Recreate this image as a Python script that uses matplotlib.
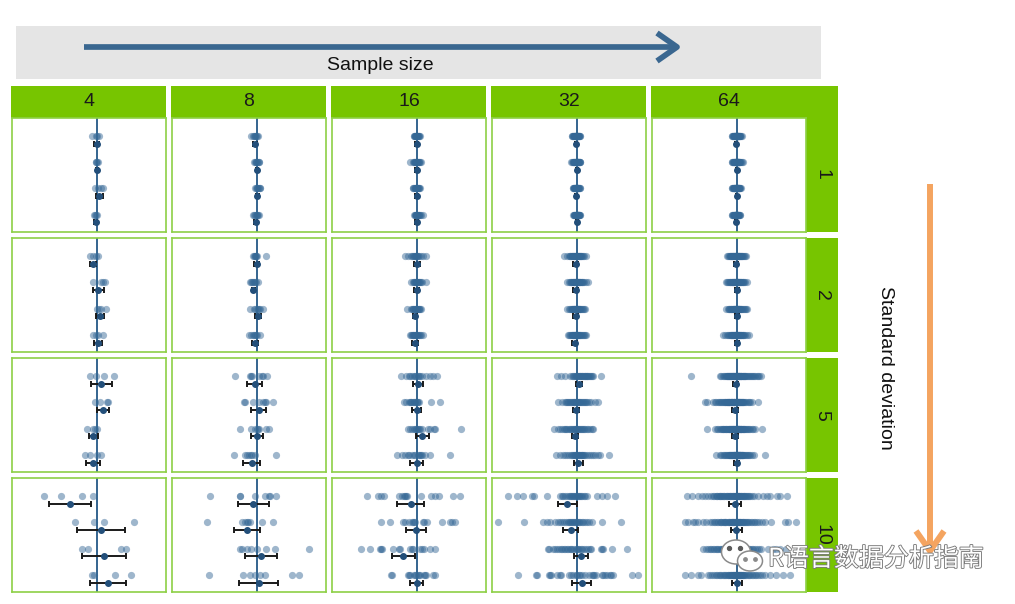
import matplotlib
matplotlib.use("Agg")
import matplotlib.pyplot as plt
from matplotlib.patches import Rectangle, Ellipse
import matplotlib.patheffects as pe

sample_sizes = [4, 8, 16, 32, 64]
std_devs = [1, 2, 5, 10]

# observations per group (offset from the true mean), one list of 4 groups per panel
sd1_n4 = [[-4.5, -1, 0.5, 2], [-1, -0.3, 0.3, 1], [-1.3, 1, 4, 6.7], [-2.5, -1.5, -0.5, 0.5]]
sd1_n8 = [[-5.3, -4, -3, -2, -1.5, -0.5, 0.3, 1.3], [-2.3, -1.5, -1, -0.3, 0.3, 1, 2, 2.7],
          [-1.7, -1, 0, 0.5, 1, 2, 3, 3.7], [-3.3, -2.5, -1.5, -1, 0, 0.5, 1.5, 2.7]]
sd1_n16 = [[-3, -2.5, -2, -1.7, -1.3, -1, -0.5, 0, 0, 0.3, 0.7, 1, 1.5, 2, 2.7, 3.3],
           [-6.7, -3.5, -3, -2.5, -2, -1.5, -1, -0.5, 0, 0.5, 1, 1.5, 2, 2.5, 3, 4],
           [-4, -3.3, -2.7, -2, -1.5, -1, -0.7, -0.3, 0, 0.3, 0.7, 1, 1.5, 2, 2.5, 3],
           [-2.7, -2, -1.5, -1, -0.7, -0.3, 0, 0.3, 0.7, 1, 1.5, 2, 2.5, 3, 4, 6]]
sd1_n32 = [[-5, -4.3, -3.7, -3.2, -2.8, -2.5, -2.1, -1.8, -1.6, -1.3, -1.1, -0.9, -0.7, -0.5, -0.3, -0.1,
            0, 0.2, 0.4, 0.5, 0.7, 0.9, 1.1, 1.3, 1.6, 1.9, 2.2, 2.5, 2.9, 3.3, 3.7, -1.5],
           [-5.3, -4.5, -3.8, -3.3, -2.9, -2.5, -2.1, -1.8, -1.5, -1.2, -0.9, -0.6, -0.4, -0.2, 0, 0.2,
            0.4, 0.6, 0.8, 1, 1.2, 1.4, 1.6, 1.9, 2.1, 2.4, 2.7, 3, 3.3, 3.7, 0.5, -0.5],
           [-3.7, -3.2, -2.8, -2.4, -2.1, -1.8, -1.5, -1.2, -1, -0.8, -0.6, -0.4, -0.2, 0, 0.1, 0.3,
            0.5, 0.7, 0.9, 1.1, 1.3, 1.6, 1.9, 2.2, 2.6, 3, 3.7, -0.5, 0.4, -1.4, 0.8, -0.1],
           [-3.3, -2.9, -2.5, -2.1, -1.8, -1.5, -1.2, -0.9, -0.6, -0.3, 0, 0.2, 0.4, 0.6, 0.8, 1,
            1.2, 1.4, 1.6, 1.8, 2, 2.3, 2.6, 2.9, 3.3, 3.7, 0.5, -0.2, 0.9, 1.3, -1, 0.1]]
sd1_n64 = [[-5, -4.3, -3.8, -3.4, -3, -2.7, -2.4, -2.1, -1.8, -1.5, -1.3, -1.1, -0.9, -0.7, -0.5, -0.3,
            -0.1, 0.1, 0.3, 0.5, 0.7, 0.9, 1.1, 1.3, 1.5, 1.8, 2.1, 2.4, 2.7, 3, 3.4, 3.9, 4.5, 5.3,
            0, -0.6, 0.6, -1.6, 1.6, 0.2],
           [-5, -4.2, -3.6, -3.1, -2.7, -2.3, -2, -1.7, -1.4, -1.1, -0.8, -0.6, -0.3, -0.1, 0.1, 0.3,
            0.5, 0.7, 0.9, 1.1, 1.3, 1.6, 1.9, 2.2, 2.5, 2.9, 3.3, 3.8, 4.4, 5.2, 6.7, 0, -0.4, 0.6,
            -1.2, 1.4, 0.2, -2.5, 2.7, 1],
           [-5, -4.2, -3.6, -3.1, -2.7, -2.4, -2.1, -1.8, -1.5, -1.2, -1, -0.8, -0.6, -0.4, -0.2, 0,
            0.2, 0.4, 0.6, 0.8, 1, 1.2, 1.5, 1.8, 2.1, 2.4, 2.8, 3.2, 3.8, 4.7, -0.1, 0.5, -0.9, 1.3,
            -1.6, 0.3, -0.3, 0.9, -2.2, 2],
           [-5, -4.3, -3.7, -3.2, -2.8, -2.4, -2.1, -1.8, -1.5, -1.3, -1.1, -0.9, -0.7, -0.5, -0.3, -0.1,
            0.1, 0.3, 0.5, 0.7, 0.9, 1.1, 1.3, 1.6, 1.9, 2.2, 2.6, 3, 3.3, -0.6, 0.4, -1.4, 0.8, -0.2,
            1.2, -2, 0, 0.6, -0.8, 1.7]]

sd2_n4 = [[-6.3, -3.7, -0.7, 1], [-3.3, 4.3, 6.3, 8.3], [0.3, 2.7, 4.7, 9], [-3.3, -0.7, 1.3, 6]]
sd2_n8 = [[-3.3, -2.7, -2, -1.7, -1, -0.5, 0.3, 9.3], [-6.3, -5.3, -4.3, -3.7, -3, -2, -1, 1],
          [-7, -3, -1.7, 0.7, 1.3, 2, 3.3, 6], [-7.7, -5.3, -4, -3, -2, -1, 0.5, 3]]
sd2_n16 = [[-11.3, -8.7, -6, -5, -4, -2.7, -2, -1.3, -0.7, 0, 0.7, 1.3, 2, 4, 6.7, 9.7],
           [-5.3, -4, -3, -2.3, -1.7, -1, -0.3, 0, 0.7, 1.3, 2, 2.7, 3.3, 4, 5, 9.7],
           [-10, -6, -5, -4, -3.3, -2.7, -2, -1.3, -0.7, 0, 0.7, 1.3, 2, 2.7, 3.3, 4.3],
           [-7, -6, -5, -4, -3.3, -2.7, -2, -1.3, -0.7, 0, 0.7, 1.3, 2.3, 3.3, 4.7, 6]]
sd2_n32 = [[-12.3, -9.5, -8, -7, -6.2, -5.5, -4.8, -4.2, -3.6, -3.1, -2.6, -2.1, -1.7, -1.3, -0.9, -0.5,
            -0.1, 0.3, 0.7, 1.1, 1.5, 2, 2.5, 3, 3.6, 4.2, 4.9, 5.7, 6.6, 7.8, 9.3, -1],
           [-9.3, -7.8, -6.8, -6, -5.2, -4.5, -3.9, -3.3, -2.8, -2.3, -1.8, -1.3, -0.9, -0.5, -0.1, 0.3,
            0.7, 1.1, 1.5, 2, 2.5, 3, 3.6, 4.3, 5, 5.8, 6.7, 7.8, 9.2, 11, -0.3, 1.8],
           [-9.3, -7.7, -6.6, -5.8, -5, -4.3, -3.7, -3.1, -2.6, -2.1, -1.6, -1.2, -0.8, -0.4, 0, 0.4,
            0.8, 1.2, 1.6, 2.1, 2.6, 3.1, 3.7, 4.4, 5.2, 6.1, 7.1, 8.3, -1.8, 0.2, -3, 1.4],
           [-8.3, -7.2, -6.3, -5.5, -4.8, -4.2, -3.6, -3.1, -2.6, -2.2, -1.8, -1.4, -1, -0.6, -0.2, 0.2,
            0.6, 1, 1.4, 1.9, 2.4, 3, 3.6, 4.3, 5.1, 6, 7.1, 8.1, 9.3, -2, 0.4, -0.8]]
sd2_n64 = [[-9.7, -8.5, -7.6, -6.9, -6.3, -5.7, -5.2, -4.7, -4.3, -3.9, -3.5, -3.1, -2.7, -2.4, -2, -1.7,
            -1.4, -1.1, -0.8, -0.5, -0.2, 0.1, 0.4, 0.7, 1, 1.3, 1.6, 2, 2.4, 2.8, 3.2, 3.7, 4.2, 4.7,
            5.3, 5.9, 6.6, 7.4, 8.2, 9],
           [-11, -9.6, -8.5, -7.6, -6.8, -6.1, -5.5, -4.9, -4.4, -3.9, -3.4, -3, -2.6, -2.2, -1.8, -1.4,
            -1, -0.7, -0.3, 0, 0.3, 0.7, 1, 1.4, 1.8, 2.2, 2.6, 3.1, 3.6, 4.1, 4.7, 5.3, 6, 6.7, 7.5,
            8.5, 10, -0.5, 0.5, 1.2],
           [-10.3, -9, -8, -7.1, -6.4, -5.7, -5.1, -4.5, -4, -3.5, -3, -2.6, -2.2, -1.8, -1.4, -1,
            -0.6, -0.2, 0.2, 0.6, 1, 1.4, 1.8, 2.2, 2.7, 3.2, 3.7, 4.3, 4.9, 5.6, 6.3, 7.1, 8, 9.1,
            10.7, -0.4, 0.8, 1.6, -1.2, 2.5],
           [-13.7, -11.3, -9.7, -8.5, -7.5, -6.7, -6, -5.3, -4.7, -4.1, -3.6, -3.1, -2.6, -2.1, -1.7,
            -1.3, -0.9, -0.5, -0.1, 0.3, 0.7, 1.1, 1.5, 2, 2.5, 3, 3.5, 4.1, 4.7, 5.4, 6.1, 6.9, 7.8,
            8.8, 10.2, 12, 0.5, -0.3, 1.3, -1.1]]

sd5_n4 = [[-6.3, -0.7, 7.7, 17.7], [-1.7, 3.7, 10.3, 11.7], [-9.3, -4, -2, 0.7], [-11.7, -6.3, 0, 4.3]]
sd5_n8 = [[-21.7, -6.7, -5.7, -5, 2.3, 5.3, 6.7, 10.7], [-12.3, -11.7, -4, 2.3, 6.7, 8.3, 9.3, 16.3],
          [-17, -6, -1.7, 0.7, 1.7, 2, 9.3, 12.7], [-23, -11.7, -10, -8, -6, -4.7, -1.3, 19.3]]
sd5_n16 = [[-16, -11, -7.7, -6.3, -5, -3, -2, -0.3, 1, 2, 3.7, 5, 9.7, 13.7, 16.3, 20.3],
           [-13, -10.3, -8, -7, -6, -5.7, -4, -3, -2, -1.3, 0, 0.3, 1, 2.7, 14.3, 23],
           [-9, -6.3, -5, -3, -2, -1, 0.3, 1, 2, 3.7, 5, 11, 13.7, 17, 18.7, 44],
           [-19.7, -14.7, -11.3, -9, -8, -4.7, -3, -1.3, 1, 2, 3, 4.3, 5, 8.7, 13, 33]]
sd5_n32 = [[-20, -16, -12, -7, -5, -4, -3, -2, -1, 0, 0, 1, 2, 3, 4, 5, 6, 7, 8, 9, 10, 11, 12, 13,
            14, 15, 16, 3, 5, 8, 10, 24],
           [-19, -15, -12, -11, -10, -9, -8, -7, -6, -5, -4, -3, -2, -1, 0, 0, 1, 2, 3, 4, 5, 6, 7, 8,
            9, 10, 12, 14, 18, 21, -3, 2],
           [-23, -19, -17, -15, -13, -12, -11, -10, -8, -7, -6, -5, -4, -3, -2, -1, 0, 1, 2, 3, 4, 5,
            6, 7, 8, 10, 11, 13, 15, 16, -2, 0],
           [-21, -17, -14, -12, -10, -8, -6, -5, -4, -3, -2, -1, 0, 1, 2, 3, 4, 5, 6, 7, 8, 10, 12,
            14, 16, 18, 21, 23, 32, 2, 5, -2]]
sd5_n64 = [[-46, -17, -15.5, -14, -13, -12, -11, -10, -9.3, -8.6, -8, -7.3, -6.7, -6, -5.4, -4.8, -4.2,
            -3.6, -3, -2.5, -2, -1.5, -1, -0.5, 0, 0.5, 1, 1.5, 2, 2.5, 3, 3.6, 4.2, 4.8, 5.4, 6, 6.7,
            7.4, 8.1, 8.8, 9.6, 10.4, 11.2, 12, 13, 14, 15, 16, 17, 18.5, 20, 21, 22, 24, -3.3, -1.2,
            0.8, 2.8, -6.3, 4.5, -9, 7, -4, 1.8],
           [-32, -29.3, -24, -22, -20.5, -19, -17.7, -16.5, -15.3, -14.2, -13.2, -12.2, -11.3, -10.4,
            -9.5, -8.7, -7.9, -7.1, -6.3, -5.6, -4.9, -4.2, -3.5, -2.8, -2.1, -1.4, -0.7, 0, 0.7, 1.4,
            2.1, 2.8, 3.6, 4.4, 5.2, 6, 6.9, 7.8, 8.8, 9.8, 11, 12.3, 13.7, 15, 21.3, -3, -1, 1, 3,
            -6, -9, -12, 0.4, -4.5, 2.5, 5.6, -7.5, -2.4, 0.2, -10, 4, -5.2, 1.7, -0.3],
           [-29.3, -22, -20, -18.5, -17, -15.7, -14.5, -13.4, -12.3, -11.3, -10.3, -9.4, -8.5, -7.6,
            -6.8, -6, -5.2, -4.4, -3.7, -3, -2.3, -1.6, -0.9, -0.2, 0.5, 1.2, 1.9, 2.6, 3.3, 4, 4.8,
            5.6, 6.4, 7.3, 8.2, 9.2, 10.2, 11.3, 12.5, 13.8, 15.2, 16.6, 18, 25.7, -2, 0, 2, -5, -8,
            1, 3.6, -1, -11, 6, -3.5, -6.5, 0.8, 2.3, -0.5, 7.8, -14, 4.4, -4, 1.5],
           [-20.3, -16.7, -15.2, -13.9, -12.7, -11.6, -10.6, -9.6, -8.7, -7.8, -7, -6.2, -5.4, -4.7,
            -4, -3.3, -2.6, -1.9, -1.2, -0.5, 0.2, 0.9, 1.6, 2.3, 3, 3.7, 4.4, 5.1, 5.9, 6.7, 7.5,
            8.4, 9.3, 10.3, 11.3, 12.4, 13.6, 15, 17, 28, 0, 1.2, -1.5, 2.6, -3, 0.6, 4, -0.9, 1.9,
            -4.4, 3.3, -2.2, 0.3, 5.5, -6, 2, -0.2, 1, -1, 3.8, -7.4, 6.3, 0.8, -2.8]]

sd10_n4 = [[-52.7, -36, -14.7, -3.7], [-21.3, -3, 7, 37], [-14.7, -8.3, 24.7, 29.7], [-5, -2.3, 18.3, 34.3]]
sd10_n8 = [[-46.7, -17, -16.7, -1.7, 8.3, 12.7, 13.7, 19], [-50, -14.3, -11.3, -10, -8.3, -7, 5.7, 16.3],
           [-16.7, -15, -10, -6, 0, 9, 18.7, 52], [-47.3, -14, -6.7, -2, 3.3, 8.3, 35.3, 42]]
sd10_n16 = [[-49.7, -38.7, -35.3, -32.3, -17.3, -14.7, -13, -11.3, -10.3, -9.7, 4.3, 14.7, 18.7, 22,
             36.3, 43],
            [-35.3, -27, -13.7, -11.3, -8, -4.7, -3.7, -2.3, -1.3, 6.3, 7.7, 10.3, 25.3, 33, 35.3, 38.7],
            [-55.7, -47, -37, -35.7, -34.7, -23.7, -18, -16.3, -7, -4.7, -3.7, 3.7, 5.3, 7, 13.7, 18.7],
            [-25.7, -24.7, -9, -8, -6.3, -3, -1.3, -0.3, 1, 2, 3.7, 7, 8.7, 9.7, 16.3, 18.7]]
sd10_n32 = [[-69, -60, -54, -45, -43, -30, -15, -12, -5, 0, 7, 10, 20, 25, 30, 38, -17, -14, -10, -8,
             -7, -6, -4, -3, -2, -1, 1, 2, 3, 4, 5, 8],
            [-79, -53, -34, -27, -19, -9, -4, 1, 8, 15, 25, 44, -30, -22, -17, -15, -13, -11, -8, -7,
             -6, -5, -3, -2, -1, 0, 2, 3, 5, 6, 10, 12],
            [-29, -24, -15, -7, 0, 5, 13, 25, 35, 50, -28, -22, -20, -18, -16, -13, -12, -10, -9, -6,
             -5, -3, -1, 1, 2, 4, 7, 9, 11, 14, 24, 26],
            [-59, -40, -27, -17, -6, 0, 5, 16, 25, 33, 55, 61, -41, -28, -26, -20, -16, -8, -4, -1, 2,
             3, 8, 12, 15, 17, 19, 26, 28, 30, 34, 36]]
sd10_n64 = [[-50, -45, -39, -35, -32, -29, -26, -24, -22.5, -21, -19.5, -18, -16.7, -15.5, -14.3, -13.2,
             -12.1, -11, -10, -9, -8, -7, -6, -5, -4, -3, -2, -1, 0, 1, 2, 3, 4, 5, 6, 7, 8.2, 9.4,
             10.6, 12, 13.5, 15, 17, 21, 26, 30, 33, 40, 43, 50, -3.5, -1.5, 0.5, 2.5, -6.5, 4.5,
             -9.5, -12.5, -17, 1.5, -0.5, 7.5, -20, 11],
            [-52, -48.7, -43.7, -42, -38.7, -33.7, -30.3, -27, -25, -23, -21.3, -19.7, -18.2, -16.8,
             -15.4, -14, -12.7, -11.4, -10.2, -9, -7.8, -6.6, -5.5, -4.4, -3.3, -2.2, -1.1, 0, 1.1,
             2.2, 3.3, 4.4, 5.5, 6.6, 7.8, 9, 10.2, 11.4, 12.7, 14, 15.4, 17, 18.7, 20.5, 22.5, 25,
             28, 34.7, 48, 51.3, 59.7, -0.5, 1.6, -3.8, 3.8, -7.2, 6, -12, 8.5, -16, 0.5, -1.7, 2.7, -5],
            [-33.7, -30.3, -28.7, -27, -25.4, -23.9, -22.4, -21, -19.6, -18.3, -17, -15.7, -14.5,
             -13.3, -12.1, -11, -9.9, -8.8, -7.7, -6.6, -5.5, -4.5, -3.5, -2.5, -1.5, -0.5, 0.5, 1.5,
             2.5, 3.5, 4.5, 5.5, 6.6, 7.7, 8.8, 10, 11.2, 12.5, 13.8, 15.2, 16.7, 18.3, 20, 22.3, 24.7,
             31.3, 36.3, 39.7, 43, 49.7, 0, -2, 2, -4, 4, -6, 6, -9, 9, -1, 1, -3, 3, -12],
            [-52, -45.3, -38.7, -35.3, -28.7, -26.5, -24.5, -22.7, -21, -19.4, -17.9, -16.5, -15.1,
             -13.8, -12.5, -11.3, -10.1, -9, -7.9, -6.8, -5.7, -4.7, -3.7, -2.7, -1.7, -0.7, 0.3, 1.3,
             2.3, 3.3, 4.3, 5.3, 6.4, 7.5, 8.6, 9.8, 11, 12.3, 13.6, 15, 16.5, 18.1, 19.8, 21.6, 23.6,
             25.7, 28, 33, 39.7, 46.3, 53, 0, -2, 2, -4, 4, 1, -1, -6, 6, 0.8, -3, 3, -8.5]]

# group means and 95% CI half-widths, [sample size][group]
means_sd1 = [[0, 0, 2.7, -0.7], [-1.3, 0.3, 0.7, -1], [0, 0, 0, 0], [-0.7, 0.3, -0.7, 0.3], [-0.3, 0, 0, -0.3]]
ci_sd1 = [[2.7, 1, 3.5, 1.5], [2.2, 1.2, 1.3, 1.5], [1.5, 1.5, 1.5, 1.5], [1.2, 1.2, 1.2, 1.2], [0.9, 0.9, 0.9, 0.9]]
means_sd2 = [[-3.7, 1.8, 3.3, 1.2], [0, -3.3, 1.7, -1.7], [0, 0, -2, -1.3], [-0.8, -0.7, -0.7, -1.8], [-0.3, 0, 0, 0.3]]
ci_sd2 = [[2.8, 5.8, 4, 4.2], [2.8, 1.5, 3.2, 2.8], [3, 2.5, 2, 2.8], [2.6, 2.6, 2.6, 2.5], [2, 2, 2, 2]]
means_sd5 = [[4.7, 6.3, -3.3, -3.3], [-2, 2, 0.3, -5], [1.3, 0, 5.7, 0], [2.7, -0.7, -1.7, 1.7], [-1, -1.3, -1.7, 0.3]]
ci_sd5 = [[10.3, 5.8, 4.5, 7], [7.3, 7.2, 6.3, 8.3], [5, 4.2, 6.3, 6.2], [3, 3, 3.3, 4.5], [2.8, 2.8, 2.8, 2.5]]
means_sd10 = [[-26.5, 4.7, 7.7, 11.3], [-3.3, -9.7, 4.3, 2.3], [-6, -0.3, -13.3, 0], [-9.3, -5.7, 4, 5.3], [-1.3, -0.3, 0, 0.3]]
ci_sd10 = [[21.2, 24, 22, 18.2], [15.5, 13.3, 15.7, 19.5], [13.3, 9.8, 11.5, 6.2], [9.7, 7.5, 7, 9.5], [5.8, 5.7, 5.5, 4.8]]

points = [[sd1_n4, sd1_n8, sd1_n16, sd1_n32, sd1_n64],
          [sd2_n4, sd2_n8, sd2_n16, sd2_n32, sd2_n64],
          [sd5_n4, sd5_n8, sd5_n16, sd5_n32, sd5_n64],
          [sd10_n4, sd10_n8, sd10_n16, sd10_n32, sd10_n64]]
means = [means_sd1, means_sd2, means_sd5, means_sd10]
cis = [ci_sd1, ci_sd2, ci_sd5, ci_sd10]

W, H = 1015, 604
GREEN = "#77c500"
BORDER = "#8dd046"
BLUE = "#356896"
col_left = [12, 172, 332, 492, 652]
row_top = [118, 238.3, 358.3, 478.3]
pw, ph = 154, 113.7

fig = plt.figure(figsize=(W / 100, H / 100), dpi=100)
plt.rcParams["font.family"] = ["Liberation Sans", "DejaVu Sans"]

# background layer in pixel coordinates: banner, strips, arrows
bg = fig.add_axes([0, 0, 1, 1], zorder=0)
bg.set_xlim(0, W)
bg.set_ylim(H, 0)
bg.axis("off")

bg.add_patch(Rectangle((16, 26), 805, 53, color="#e5e5e5", lw=0))
bg.plot([84, 674], [47, 47], color="#3a6790", lw=4.1, solid_capstyle="butt")
bg.plot([657, 677, 657], [33, 47, 61], color="#3a6790", lw=4.1, solid_capstyle="butt")
bg.text(380, 65, "Sample size", ha="center", va="center", fontsize=14, color="#111111")

bg.plot([930, 930], [184, 548], color="#f4a460", lw=4.3, solid_capstyle="butt")
bg.plot([916, 930, 944], [531, 551, 531], color="#f4a460", lw=4.3, solid_capstyle="butt")
bg.text(886, 368, "Standard deviation", ha="center", va="center", rotation=-90,
        fontsize=14, color="#111111")

for j, n in enumerate(sample_sizes):
    bg.add_patch(Rectangle((col_left[j] - 1, 86), pw + 1, 31.5, color=GREEN, lw=0))
    bg.text(col_left[j] + pw / 2, 102, str(n), ha="center", va="center", fontsize=14, color="#1a1a1a")

bg.add_patch(Rectangle((806.5, 86), 32, 32.5, color=GREEN, lw=0))
for i, sd in enumerate(std_devs):
    bg.add_patch(Rectangle((806.5, row_top[i]), 32, ph, color=GREEN, lw=0))
    bg.text(822, row_top[i] + ph / 2, str(sd), ha="center", va="center", rotation=-90,
            fontsize=14, color="#1a1a1a")

# panels
for i, sd in enumerate(std_devs):
    for j, n in enumerate(sample_sizes):
        ax = fig.add_axes([col_left[j] / W, 1 - (row_top[i] + ph) / H, pw / W, ph / H], zorder=2)
        ax.set_xlim(-84.5, 69.5)
        ax.set_ylim(3.65, -0.67)
        ax.set_xticks([])
        ax.set_yticks([])
        for s in ax.spines.values():
            s.set_color(BORDER)
            s.set_linewidth(1.2)
        ax.axvline(0, color="#34648f", lw=1.4, zorder=1)
        for g in range(4):
            vals = points[i][j][g]
            ax.scatter(vals, [g] * len(vals), s=27, color=BLUE, alpha=0.48, lw=0, zorder=2)
            ax.errorbar(means[i][j][g], g + 0.3, xerr=cis[i][j][g], fmt="o", ms=4.0,
                        color="#234f7a", ecolor="#1a1a1a", elinewidth=1.4, capsize=2.4,
                        capthick=1.4, zorder=3)

# watermark on top
fg = fig.add_axes([0, 0, 1, 1], zorder=10)
fg.set_xlim(0, W)
fg.set_ylim(H, 0)
fg.axis("off")
fg.patch.set_alpha(0)
fg.add_patch(Ellipse((736, 552), 29, 24, facecolor="white", edgecolor="#8a8a8a", lw=1.1))
fg.add_patch(Ellipse((750, 561), 25, 20, facecolor="white", edgecolor="#8a8a8a", lw=1.1))
fg.scatter([729, 740], [548, 548], s=8, color="#5a5a5a", zorder=3)
fg.scatter([745, 755], [559, 559], s=6, color="#8a8a8a", zorder=3)
fg.text(768, 559, "R语言数据分析指南", ha="left", va="center", fontsize=18, color="white",
        family=["Noto Sans CJK SC", "DejaVu Sans"],
        path_effects=[pe.withStroke(linewidth=1.3, foreground="#7a7a7a")])

fig.savefig("out.png", dpi=100)
